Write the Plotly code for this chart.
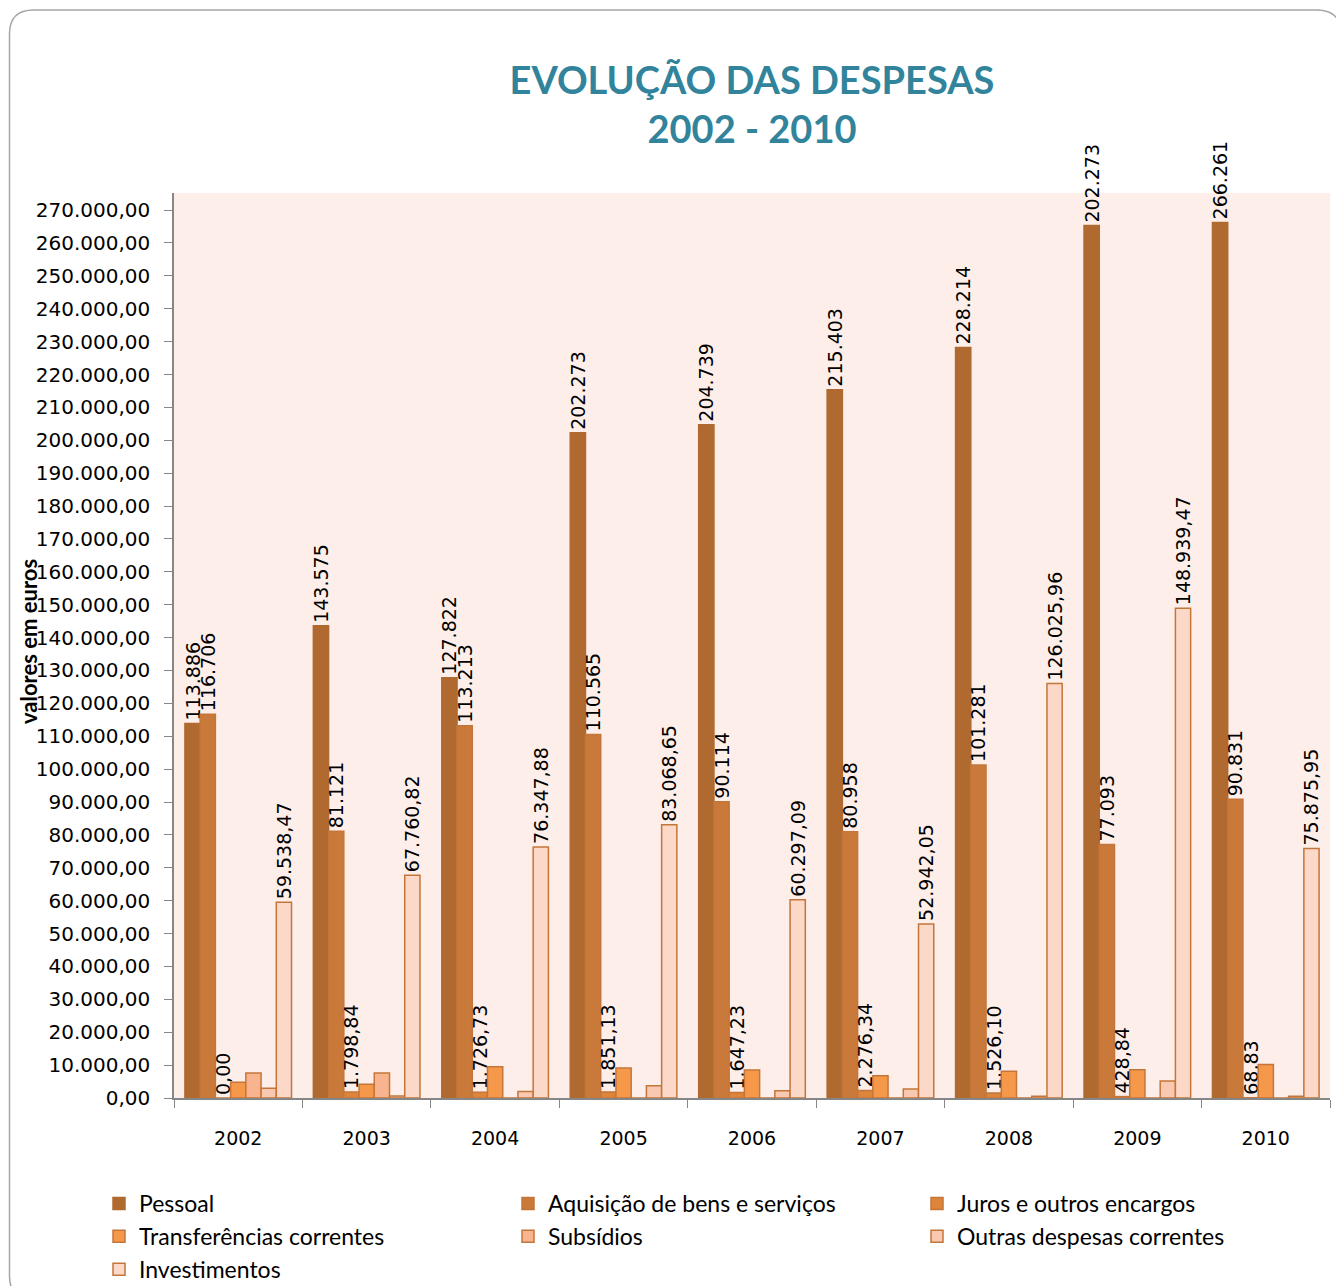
import plotly.graph_objects as go

anos = ["2002", "2003", "2004", "2005", "2006", "2007", "2008", "2009", "2010"]

pessoal = [113886, 143575, 127822, 202273, 204739, 215403, 228214, 265300, 266261]
aquisicao = [116706, 81121, 113213, 110565, 90114, 80958, 101281, 77093, 90831]
juros = [0.00, 1798.84, 1726.73, 1851.13, 1647.23, 2276.34, 1526.10, 428.84, 68.83]
transferencias = [4800, 4200, 9500, 9100, 8500, 6800, 8100, 8600, 10200]
subsidios = [7600, 7600, 0, 0, 0, 0, 0, 0, 0]
outras = [3000, 600, 2000, 3700, 2200, 2700, 500, 5200, 500]
investimentos = [59538.47, 67760.82, 76347.88, 83068.65, 60297.09, 52942.05, 126025.96, 148939.47, 75875.95]

# rótulos tal como aparecem no gráfico original
txt_pessoal = ["113.886", "143.575", "127.822", "202.273", "204.739", "215.403", "228.214", "202.273", "266.261"]
txt_aquisicao = ["116.706", "81.121", "113.213", "110.565", "90.114", "80.958", "101.281", "77.093", "90.831"]
txt_juros = ["0,00", "1.798,84", "1.726,73", "1.851,13", "1.647,23", "2.276,34", "1.526,10", "428,84", "68,83"]
txt_invest = ["59.538,47", "67.760,82", "76.347,88", "83.068,65", "60.297,09", "52.942,05",
              "126.025,96", "148.939,47", "75.875,95"]

series = [
    ("Pessoal", pessoal, "#B0692F", "#B0692F", txt_pessoal),
    ("Aquisição de bens e serviços", aquisicao, "#C97A3A", "#C4763A", txt_aquisicao),
    ("Juros e outros encargos", juros, "#DD853A", "#C4763A", txt_juros),
    ("Transferências correntes", transferencias, "#F5984A", "#C4763A", None),
    ("Subsídios", subsidios, "#F8B48E", "#C4763A", None),
    ("Outras despesas correntes", outras, "#F9C8B0", "#C4763A", None),
    ("Investimentos", investimentos, "#FBD8C8", "#C4763A", txt_invest),
]

fig = go.Figure()
for nome, vals, cor, borda, txt in series:
    fig.add_trace(go.Bar(
        x=anos, y=vals, name=nome,
        marker=dict(color=cor, line=dict(color=borda, width=1.5)),
        text=txt, textposition="outside" if txt else "none",
        textangle=-90, constraintext="none", cliponaxis=False,
        textfont=dict(family="DejaVu Sans", size=19, color="#000000"),
        hoverinfo="x+y+name",
    ))

# a página tem 8px de margem no body; compensar
OFF = 8
L, R, T, B = 174 - OFF, 14, 193 - OFF, 188
W, H = 1344 - OFF, 1286 - OFF
pw, ph = W - L - R, H - T - B


def px(x):
    return (x - 174) / pw


def py(y):
    return (1098 - y) / ph


# moldura arredondada à volta do gráfico
x0, x1, y0, y1, r = 9.5, 1341, 10, 1300, 24
moldura = (f"M {px(x0 + r)},{py(y0)} L {px(x1 - r)},{py(y0)} Q {px(x1)},{py(y0)} {px(x1)},{py(y0 + r)} "
           f"L {px(x1)},{py(y1 - r)} Q {px(x1)},{py(y1)} {px(x1 - r)},{py(y1)} "
           f"L {px(x0 + r)},{py(y1)} Q {px(x0)},{py(y1)} {px(x0)},{py(y1 - r)} "
           f"L {px(x0)},{py(y0 + r)} Q {px(x0)},{py(y0)} {px(x0 + r)},{py(y0)} Z")

fig.update_layout(
    width=W, height=H,
    margin=dict(l=L, r=R, t=T, b=B, autoexpand=False),
    paper_bgcolor="white",
    plot_bgcolor="#FDEEE9",
    separators=",.",
    barmode="group", bargap=0.17, bargroupgap=0,
    title=dict(text="<b>EVOLUÇÃO DAS DESPESAS<br>2002 - 2010</b>",
               font=dict(family="Lato", size=38, color="#31849B"),
               x=px(752), xref="paper", xanchor="center",
               y=1 - 86 / H, yref="container", yanchor="top"),
    xaxis=dict(type="category", showline=True, linecolor="#868686", linewidth=1.5,
               ticks="outside", tickson="boundaries", ticklen=8, tickcolor="#868686",
               ticklabelstandoff=22,
               tickfont=dict(family="DejaVu Sans", size=19, color="#000000"),
               showgrid=False),
    yaxis=dict(range=[0, 275200], dtick=10000, tickformat=",.2f",
               showline=True, linecolor="#868686", linewidth=1.5,
               ticks="outside", ticklen=8, tickcolor="#868686",
               ticklabelstandoff=10,
               tickfont=dict(family="DejaVu Sans", size=20, color="#000000"),
               showgrid=False, zeroline=False),
    legend=dict(orientation="h", x=px(99), xanchor="left", y=py(1182), yanchor="top",
                entrywidth=364, entrywidthmode="pixels",
                font=dict(family="Lato", size=23, color="#000000"),
                traceorder="normal", bgcolor="rgba(0,0,0,0)"),
    annotations=[dict(text="<b>valores em euros</b>", textangle=-90,
                      x=px(28), y=py(642), xref="paper", yref="paper",
                      xanchor="center", yanchor="middle",
                      showarrow=False, font=dict(family="Lato", size=22, color="#000000"))],
    shapes=[dict(type="path", path=moldura, xref="paper", yref="paper",
                 line=dict(color="#A6A6A6", width=1.5), layer="below")],
)

fig.write_html("out.html")
